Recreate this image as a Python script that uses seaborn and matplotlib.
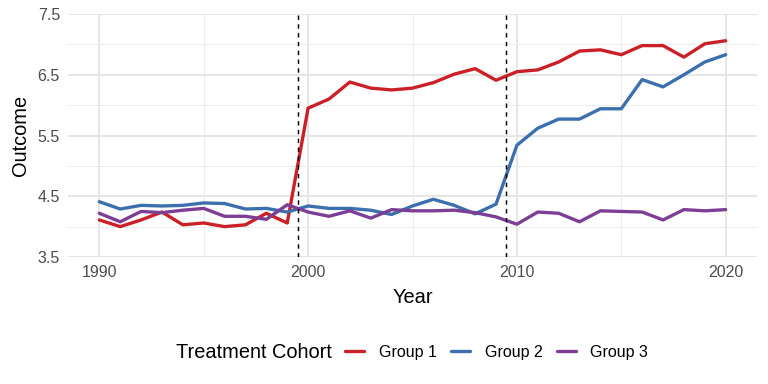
import numpy as np
import pandas as pd
import matplotlib
matplotlib.use("Agg")
import matplotlib.pyplot as plt
import seaborn as sns
from matplotlib.offsetbox import HPacker

# values
years = list(range(1990, 2021))
group1 = [4.11, 4.00, 4.11, 4.24, 4.03, 4.06, 4.00, 4.03, 4.22, 4.06,
          5.95, 6.10, 6.38, 6.28, 6.25, 6.28, 6.37, 6.51, 6.60, 6.41,
          6.55, 6.58, 6.71, 6.89, 6.91, 6.83, 6.98, 6.98, 6.79, 7.01, 7.06]
group2 = [4.41, 4.29, 4.35, 4.34, 4.35, 4.39, 4.38, 4.29, 4.30, 4.24,
          4.34, 4.30, 4.30, 4.27, 4.20, 4.34, 4.45, 4.35, 4.21, 4.37,
          5.34, 5.62, 5.77, 5.77, 5.94, 5.94, 6.42, 6.30, 6.50, 6.71, 6.83]
group3 = [4.22, 4.08, 4.25, 4.23, 4.27, 4.30, 4.17, 4.17, 4.12, 4.36,
          4.24, 4.17, 4.26, 4.14, 4.28, 4.26, 4.26, 4.27, 4.23, 4.16,
          4.04, 4.24, 4.22, 4.08, 4.26, 4.25, 4.24, 4.11, 4.28, 4.26, 4.28]
groups = ["Group 1", "Group 2", "Group 3"]
treat_times = [1999.5, 2009.5]

df = pd.DataFrame({
    "Year": years * 3,
    "Outcome": group1 + group2 + group3,
    "Treatment Cohort": [g for g in groups for _ in years],
})

colors = {"Group 1": "#CB2027", "Group 2": "#3B6FAD", "Group 3": "#7D3F96"}

sns.set_theme(style="whitegrid")
plt.rcParams["font.family"] = ["Liberation Sans", "DejaVu Sans"]
plt.rcParams["text.color"] = "black"
plt.rcParams["axes.labelcolor"] = "black"

fig = plt.figure(figsize=(8, 4), dpi=96)
ax = fig.add_axes([68 / 768, 1 - 257 / 384, (757 - 68) / 768, (257 - 14) / 384])

sns.lineplot(data=df, x="Year", y="Outcome", hue="Treatment Cohort",
             palette=colors, linewidth=2.5, ax=ax, legend=True)

for t in treat_times:
    ax.axvline(t, color="black", linestyle=(0, (3, 3)), linewidth=1.1)

ax.set_xlim(1988.5, 2021.5)
ax.set_ylim(3.5, 7.5)
ax.set_xticks([1990, 2000, 2010, 2020])
ax.set_yticks([3.5, 4.5, 5.5, 6.5, 7.5])
ax.set_xticks([1995, 2005, 2015], minor=True)
ax.set_yticks([4.0, 5.0, 6.0, 7.0], minor=True)
ax.set_axisbelow(True)
ax.grid(which="major", color="#E6E6E6", linewidth=1.5)
ax.grid(which="minor", color="#ECECEC", linewidth=0.8)
ax.tick_params(which="both", length=0, labelsize=12, labelcolor="#4D4D4D", pad=6)
for s in ax.spines.values():
    s.set_visible(False)
ax.set_facecolor("white")
ax.set_xlabel("Year", fontsize=15, labelpad=6)
ax.set_ylabel("Outcome", fontsize=15, labelpad=6)

handles, labels = ax.get_legend_handles_labels()
ax.legend_.remove()
fig.legend(handles, labels, title="Treatment Cohort", loc="center",
           bbox_to_anchor=(412 / 768, 1 - 352 / 384), ncol=3, frameon=False,
           fontsize=12, title_fontsize=15, handlelength=1.2,
           columnspacing=0.9, handletextpad=0.9)
leg = fig.legends[0]
# put the title on the same row as the entries
leg._legend_box._children = [HPacker(pad=0, sep=10, align="center",
                                     children=[leg._legend_title_box,
                                               leg._legend_handle_box])]

fig.savefig("out.png", dpi=96)
